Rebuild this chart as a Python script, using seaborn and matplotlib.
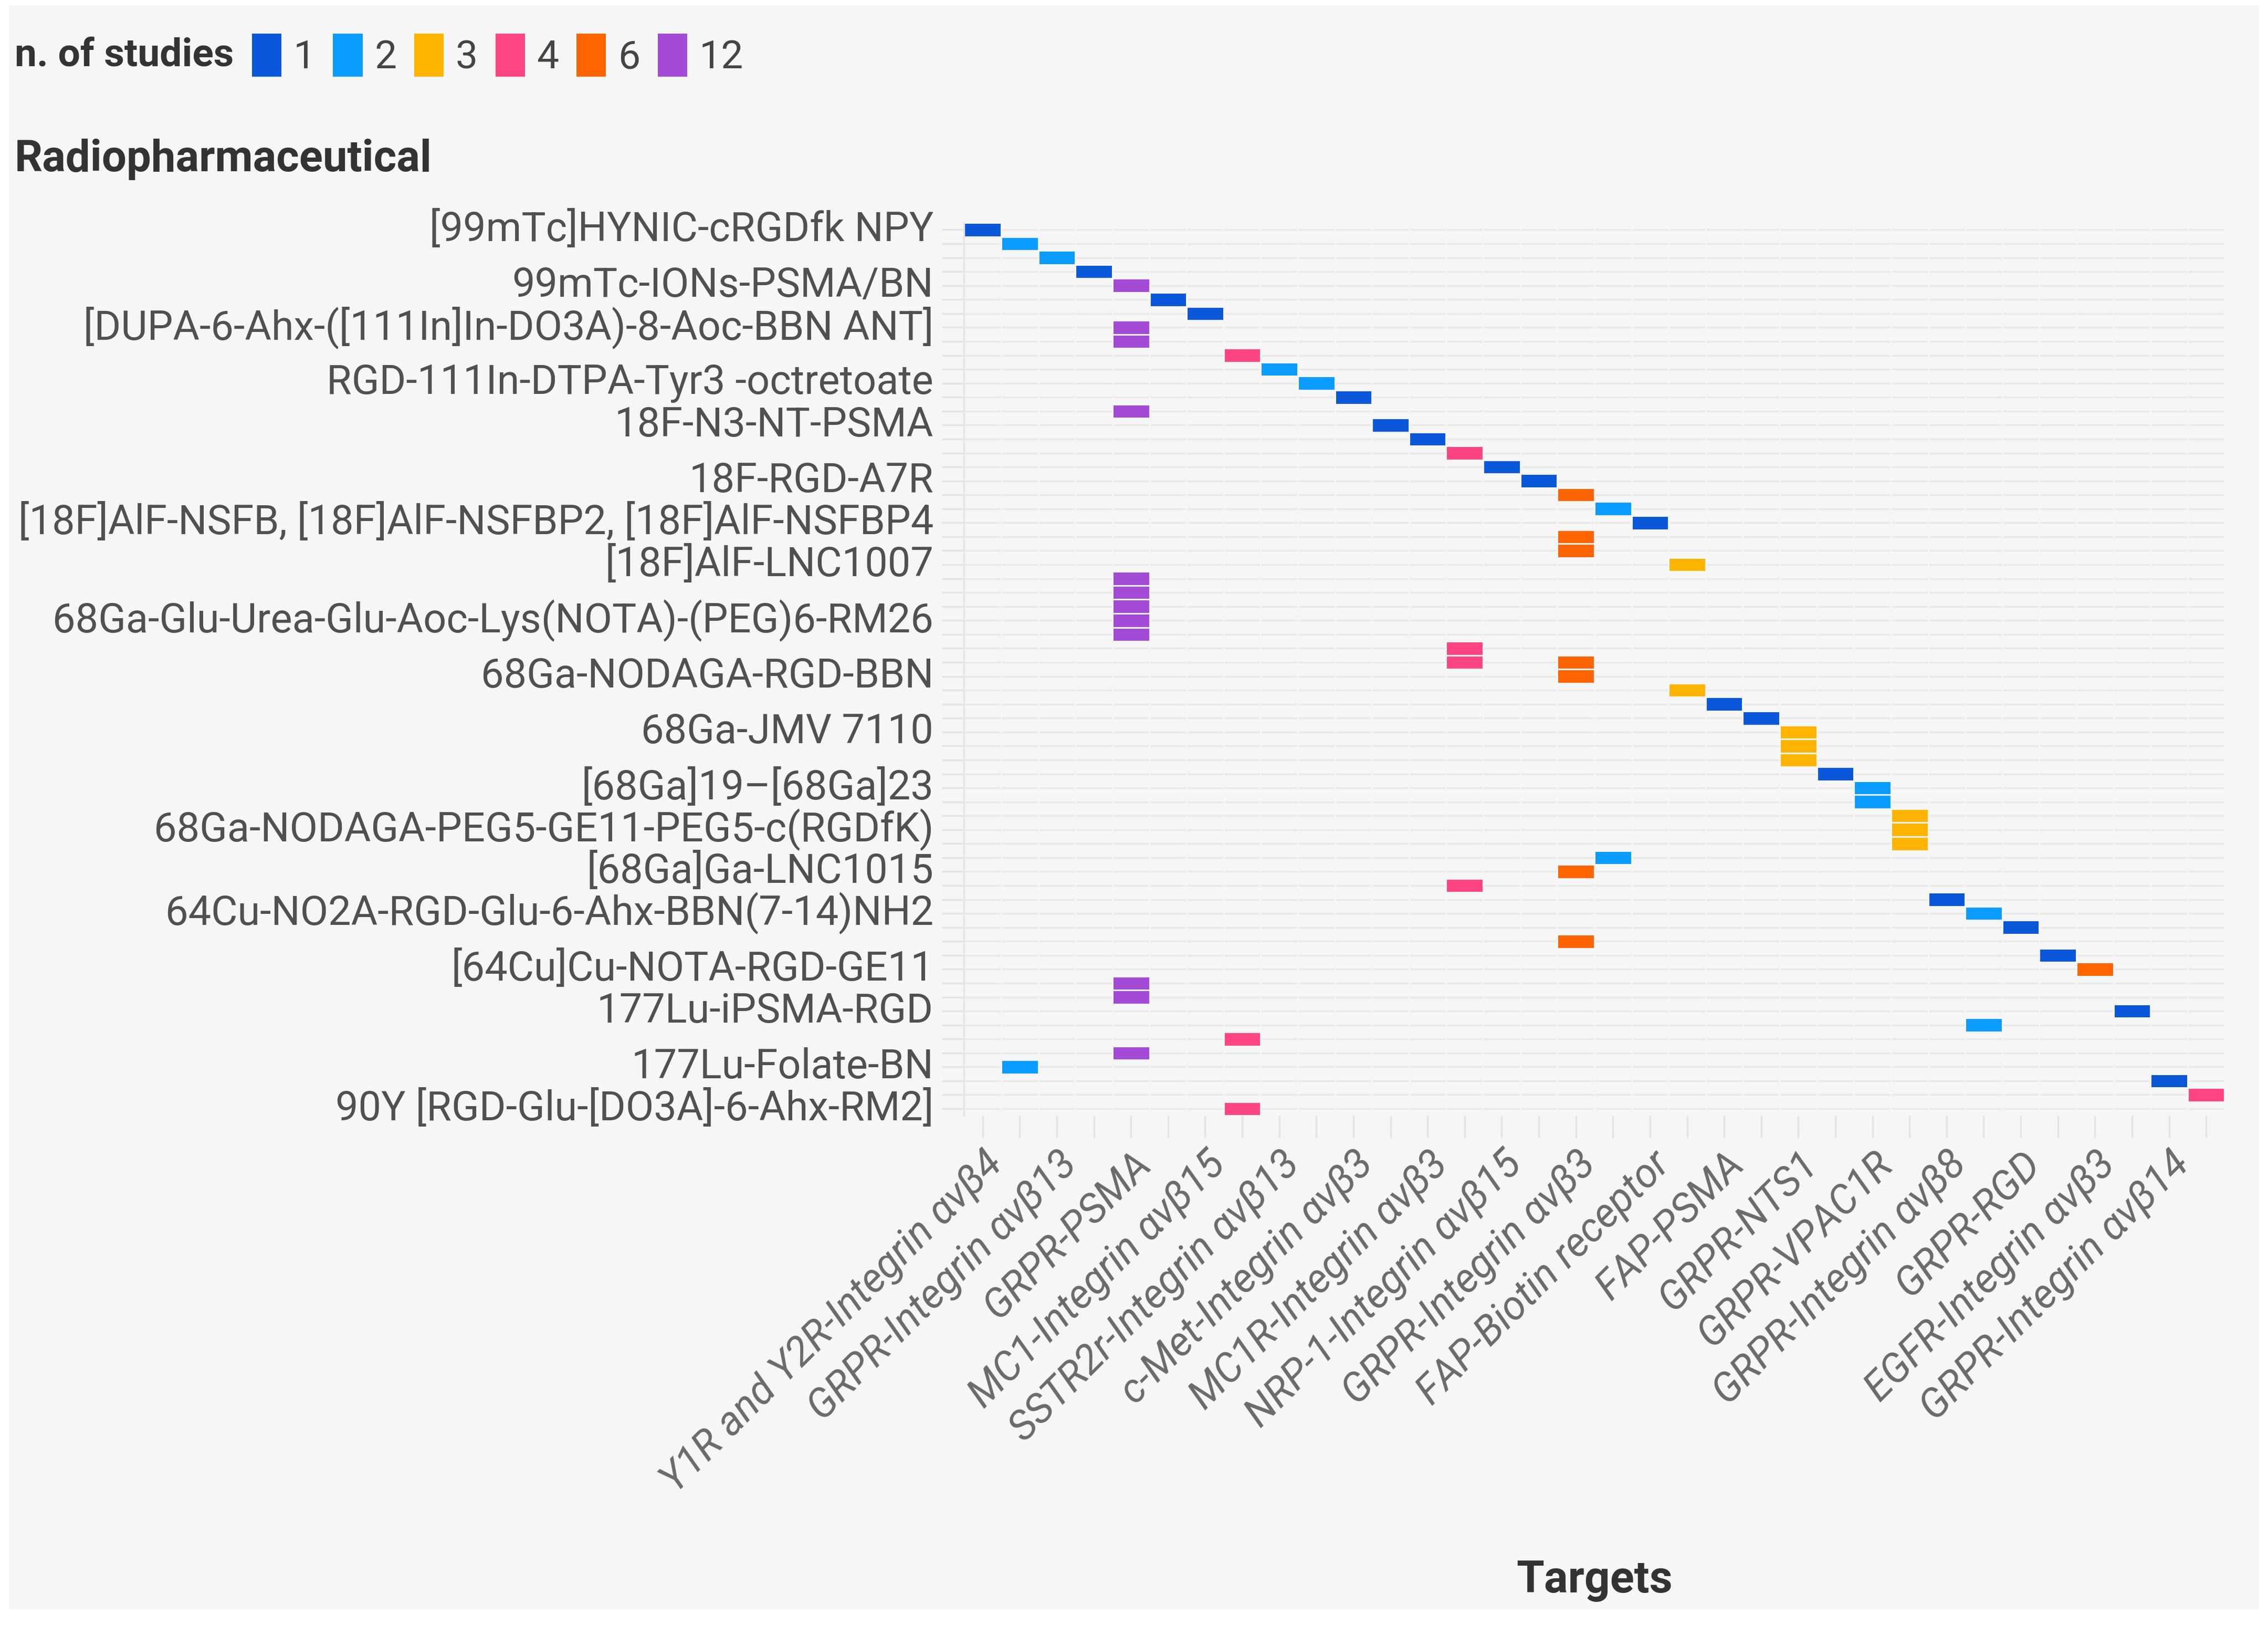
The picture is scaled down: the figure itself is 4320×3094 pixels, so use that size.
import numpy as np
import pandas as pd
import matplotlib.pyplot as plt
import seaborn as sns
from matplotlib.colors import ListedColormap
from matplotlib.patches import Patch, Rectangle


# targets along the x axis (only every second one carries a label in the chart)
targets = ["Y1R and Y2R-Integrin αvβ4", "(unlabelled 1)",
           "GRPR-Integrin αvβ13", "(unlabelled 2)",
           "GRPR-PSMA", "(unlabelled 3)",
           "MC1-Integrin αvβ15", "(unlabelled 4)",
           "SSTR2r-Integrin αvβ13", "(unlabelled 5)",
           "c-Met-Integrin αvβ3", "(unlabelled 6)",
           "MC1R-Integrin αvβ3", "(unlabelled 7)",
           "NRP-1-Integrin αvβ15", "(unlabelled 8)",
           "GRPR-Integrin αvβ3", "(unlabelled 9)",
           "FAP-Biotin receptor", "(unlabelled 10)",
           "FAP-PSMA", "(unlabelled 11)",
           "GRPR-NTS1", "(unlabelled 12)",
           "GRPR-VPAC1R", "(unlabelled 13)",
           "GRPR-Integrin αvβ8", "(unlabelled 14)",
           "GRPR-RGD", "(unlabelled 15)",
           "EGFR-Integrin αvβ3", "(unlabelled 16)",
           "GRPR-Integrin αvβ14", "(unlabelled 17)"]

# n. of studies per target (colour of its cells)
target_studies = [1, 2, 2, 1, 12, 1, 1, 4, 2, 2, 1, 1, 1, 4, 1, 1, 6,
                  2, 1, 3, 1, 1, 3, 1, 2, 3, 1, 2, 1, 1, 6, 1, 1, 4]

# radiopharmaceutical rows, only some names are printed on the axis
n_entries = 64
label_rows = [0, 4, 7, 11, 14, 18, 21, 24, 28, 32, 36, 40, 43, 46, 49, 53, 56, 60, 63]
label_names = ["[99mTc]HYNIC-cRGDfk NPY",
               "99mTc-IONs-PSMA/BN",
               "[DUPA-6-Ahx-([111In]In-DO3A)-8-Aoc-BBN ANT]",
               "RGD-111In-DTPA-Tyr3 -octretoate",
               "18F-N3-NT-PSMA",
               "18F-RGD-A7R",
               "[18F]AlF-NSFB, [18F]AlF-NSFBP2, [18F]AlF-NSFBP4",
               "[18F]AlF-LNC1007",
               "68Ga-Glu-Urea-Glu-Aoc-Lys(NOTA)-(PEG)6-RM26",
               "68Ga-NODAGA-RGD-BBN",
               "68Ga-JMV 7110",
               "[68Ga]19–[68Ga]23",
               "68Ga-NODAGA-PEG5-GE11-PEG5-c(RGDfK)",
               "[68Ga]Ga-LNC1015",
               "64Cu-NO2A-RGD-Glu-6-Ahx-BBN(7-14)NH2",
               "[64Cu]Cu-NOTA-RGD-GE11",
               "177Lu-iPSMA-RGD",
               "177Lu-Folate-BN",
               "90Y [RGD-Glu-[DO3A]-6-Ahx-RM2]"]

# filled cells: row of the radiopharmaceutical, index of the target
cell_row = [0, 1, 2, 3, 4, 5, 6, 7, 8, 9,
            10, 11, 12, 13, 14, 15, 16, 17, 18, 19,
            20, 21, 22, 23, 24, 25, 26, 27, 28, 29,
            30, 31, 31, 32, 33, 34, 35, 36, 37, 38,
            39, 40, 41, 42, 43, 44, 45, 46, 47, 48,
            49, 50, 51, 52, 53, 54, 55, 56, 57, 58,
            59, 60, 61, 62, 63]
cell_col = [0, 1, 2, 3, 4, 5, 6, 4, 4, 7,
            8, 9, 10, 4, 11, 12, 13, 14, 15, 16,
            17, 18, 16, 16, 19, 4, 4, 4, 4, 4,
            13, 13, 16, 16, 19, 20, 21, 22, 22, 22,
            23, 24, 24, 25, 25, 25, 17, 16, 13, 26,
            27, 28, 16, 29, 30, 4, 4, 31, 27, 7,
            4, 1, 32, 33, 7]

studies_levels = [1, 2, 3, 4, 6, 12]
level_colors = ["#0a57d9", "#0a9cff", "#ffb400", "#ff4484", "#ff6400", "#a34bd6"]

bg = "#f6f6f6"

cells = pd.DataFrame({"row": cell_row,
                      "target": [targets[c] for c in cell_col],
                      "n": [target_studies[c] for c in cell_col]})
cells["level"] = cells["n"].map({v: i for i, v in enumerate(studies_levels)})
grid = (cells.pivot_table(index="row", columns="target", values="level", aggfunc="first")
        .reindex(index=range(n_entries), columns=targets))

xlabels = ["" if t.startswith("(unlabelled") else t for t in targets]
ylabels = [""] * n_entries
for r, name in zip(label_rows, label_names):
    ylabels[r] = name

sns.set_theme(style="white")
plt.rcParams["font.family"] = ["Roboto", "DejaVu Sans"]

fig = plt.figure(figsize=(14.4, 3094 / 300), dpi=300, facecolor="white")
fig.patches.append(Rectangle((0.004, 0.0098), 0.992, 0.9866, transform=fig.transFigure,
                             facecolor=bg, edgecolor="none", zorder=-10))
ax = fig.add_axes([0.4251, 0.3134, 0.5558, 0.5495])
ax.set_facecolor(bg)

sns.heatmap(grid, ax=ax, cmap=ListedColormap(level_colors),
            vmin=-0.5, vmax=len(studies_levels) - 0.5, cbar=False,
            linewidths=0.7, linecolor=bg,
            xticklabels=xlabels, yticklabels=ylabels)

ax.set_axisbelow(True)
ax.yaxis.grid(True, color="#e9e9e9", linewidth=0.8)
ax.tick_params(axis="y", left=True, length=10, width=0.8, color="#e4e4e4",
               pad=4, labelsize=18.6, labelcolor="#505050")
ax.tick_params(axis="x", bottom=True, length=10, width=0.8, color="#e4e4e4",
               pad=3, labelsize=18.5, labelcolor="#6a6a6a")
plt.setp(ax.get_xticklabels(), rotation=45, ha="right", va="top",
         rotation_mode="anchor", fontstyle="italic")
plt.setp(ax.get_yticklabels(), rotation=0)

for side in ["top", "right", "bottom"]:
    ax.spines[side].set_visible(False)
ax.spines["left"].set_visible(True)
ax.spines["left"].set_color("#e6e6e6")
ax.spines["left"].set_linewidth(0.8)

ax.set_ylabel("")
ax.set_xlabel("Targets", fontsize=20.5, fontweight="bold", color="#333333")
ax.xaxis.set_label_coords(0.5, -0.497)

fig.text(0.0064, 0.902, "Radiopharmaceutical", fontsize=20, fontweight="bold",
         color="#333333", ha="left", va="center")
fig.text(0.0064, 0.966, "n. of studies", fontsize=18, fontweight="bold",
         color="#333333", ha="left", va="center")
handles = [Patch(facecolor=c, edgecolor="none") for c in level_colors]
fig.legend(handles, [str(v) for v in studies_levels], loc="center left",
           bbox_to_anchor=(0.111, 0.966), ncol=6, frameon=False, fontsize=18,
           handlelength=0.75, handleheight=1.3, handletextpad=0.3,
           columnspacing=0.45, borderpad=0, borderaxespad=0, labelcolor="#444444")

fig.savefig("out.png", dpi=300, facecolor=fig.get_facecolor())
